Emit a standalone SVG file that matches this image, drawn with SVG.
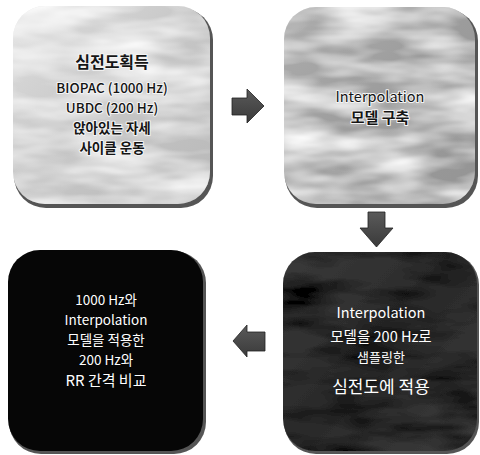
<svg xmlns="http://www.w3.org/2000/svg" width="480" height="455" viewBox="0 0 480 455">
<defs>
<style>
.t{font-family:"Noto Sans CJK KR","Noto Sans",sans-serif;text-anchor:middle}
.dk{fill:#151515;stroke:#f4f4f4;stroke-width:2;paint-order:stroke;stroke-linejoin:round}
.lt{fill:#ffffff}
.sh{fill:#555555}
.arr{fill:url(#ga);stroke:#222;stroke-width:0.8}
</style>
<linearGradient id="g1" x1="0" y1="0" x2="1" y2="1">
<stop offset="0" stop-color="#dedede"/><stop offset="0.5" stop-color="#c6c6c6"/><stop offset="1" stop-color="#b8b8b8"/>
</linearGradient>
<linearGradient id="g2" x1="0" y1="0" x2="1" y2="1">
<stop offset="0" stop-color="#adadad"/><stop offset="0.5" stop-color="#9c9c9c"/><stop offset="1" stop-color="#949494"/>
</linearGradient>
<linearGradient id="g4" x1="0" y1="0" x2="1" y2="1">
<stop offset="0" stop-color="#3a3a3a"/><stop offset="0.5" stop-color="#2a2a2a"/><stop offset="1" stop-color="#3c3c3c"/>
</linearGradient>
<linearGradient id="ga" x1="0" y1="0" x2="0" y2="1">
<stop offset="0" stop-color="#5a5a5a"/><stop offset="1" stop-color="#3a3a3a"/>
</linearGradient>
<filter id="marble" x="0" y="0" width="1" height="1">
<feTurbulence type="fractalNoise" baseFrequency="0.012 0.045" numOctaves="3" seed="4" result="n"/>
<feColorMatrix in="n" type="matrix" values="0 0 0 0 1  0 0 0 0 1  0 0 0 0 1  0 0 0 -1.6 1.1" result="w"/>
<feComposite in="w" in2="SourceGraphic" operator="in" result="wm"/>
<feMerge><feMergeNode in="SourceGraphic"/><feMergeNode in="wm"/></feMerge>
</filter>
<filter id="marbleD" x="0" y="0" width="1" height="1">
<feTurbulence type="fractalNoise" baseFrequency="0.012 0.05" numOctaves="3" seed="9" result="n"/>
<feColorMatrix in="n" type="matrix" values="0 0 0 0 0  0 0 0 0 0  0 0 0 0 0  0 0 0 -2.2 1.3" result="w"/>
<feComposite in="w" in2="SourceGraphic" operator="in" result="wm"/>
<feMerge><feMergeNode in="SourceGraphic"/><feMergeNode in="wm"/></feMerge>
</filter>
</defs>
<rect width="480" height="455" fill="#ffffff"/>

<g id="node1">
<rect class="sh" x="14" y="8" width="199" height="200" rx="32"/>
<rect x="13" y="6" width="197" height="198" rx="32" fill="url(#g1)" filter="url(#marble)"/>
<text class="t dk" x="112" y="68" font-size="16" font-weight="bold">심전도획득</text>
<text class="t dk" x="112" y="93" font-size="13.5" font-weight="500">BIOPAC (1000 Hz)</text>
<text class="t dk" x="112" y="113" font-size="13.5" font-weight="500">UBDC (200 Hz)</text>
<text class="t dk" x="112" y="133" font-size="13.5" font-weight="bold">앉아있는 자세</text>
<text class="t dk" x="112" y="153" font-size="13.5" font-weight="bold">사이클 운동</text>
</g>

<g id="node2">
<rect class="sh" x="285" y="9" width="193" height="199" rx="32"/>
<rect x="284" y="7" width="191" height="197" rx="32" fill="url(#g2)" filter="url(#marble)"/>
<text class="t dk" x="380" y="102" font-size="14.5">Interpolation</text>
<text class="t dk" x="380" y="123" font-size="15" font-weight="bold">모델 구축</text>
</g>

<g id="node3">
<rect class="sh" x="9" y="251" width="197" height="203" rx="32" fill="#777"/>
<rect x="8" y="250" width="195" height="201" rx="32" fill="#060606"/>
<text class="t lt" x="106" y="305" font-size="13.5">1000 Hz와</text>
<text class="t lt" x="106" y="325" font-size="13.5">Interpolation</text>
<text class="t lt" x="106" y="345" font-size="13.5">모델을 적용한</text>
<text class="t lt" x="106" y="365" font-size="13.5">200 Hz와</text>
<text class="t lt" x="106" y="386" font-size="15">RR 간격 비교</text>
</g>

<g id="node4">
<rect class="sh" x="284" y="253" width="195" height="201" rx="32" fill="#888"/>
<rect x="283" y="252" width="194" height="199" rx="32" fill="url(#g4)" filter="url(#marbleD)"/>
<text class="t lt" x="381" y="318" font-size="14.5">Interpolation</text>
<text class="t lt" x="381" y="342" font-size="14.5">모델을 200 Hz로</text>
<text class="t lt" x="381" y="362" font-size="13">샘플링한</text>
<text class="t lt" x="381" y="393" font-size="17">심전도에 적용</text>
</g>

<g id="connectors">
<polygon class="arr" points="232,98 247,98 247,89 264,106 247,123 247,115 232,115"/>
<polygon class="arr" points="368,212 385,212 385,228 393,228 376.5,247 360,228 368,228"/>
<polygon class="arr" points="265,332 247,332 247,325 233,341 247,357 247,351 265,351"/>
</g>
</svg>
